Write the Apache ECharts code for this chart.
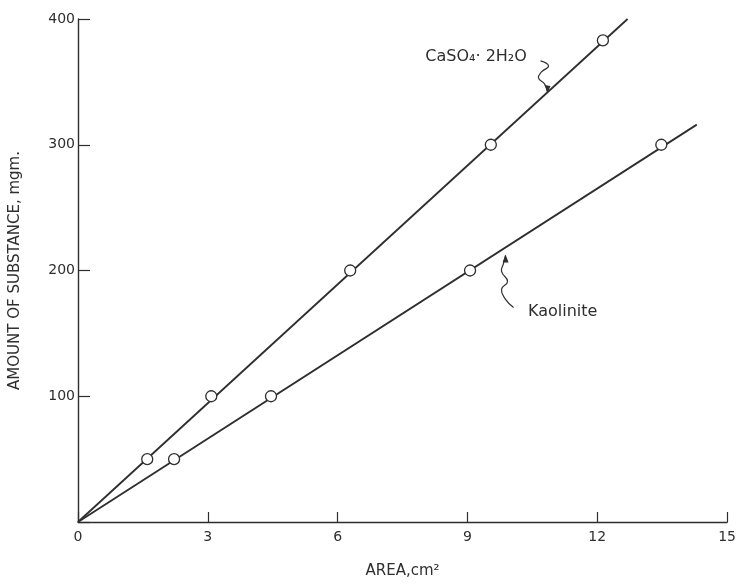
<!DOCTYPE html>
<html>
<head>
<meta charset="utf-8">
<script src="https://cdn.jsdelivr.net/npm/echarts@6/dist/echarts.min.js"></script>
<style>
html, body { margin: 0; padding: 0; background: #fff; }
#main { width: 739px; height: 584px; }
</style>
</head>
<body>
<div id="main"></div>
<script>
// values
var xTicks = [0, 3, 6, 9, 12, 15];
var yTicks = [0, 100, 200, 300, 400];

var gypsumArea = [1.6, 3.08, 6.29, 9.54, 12.13];
var gypsumMass = [50, 100, 200, 300, 383];
var gypsumLine = [[0, 0], [12.7, 400]];

var kaolArea = [2.22, 4.46, 9.06, 13.48];
var kaolMass = [50, 100, 200, 300];
var kaolLine = [[0, 0], [14.3, 316]];

var ink = '#2e2e2e';
var font = 'DejaVu Sans';

function pairs(xs, ys) {
    return xs.map(function (x, i) { return [x, ys[i]]; });
}

var myChart = echarts.init(document.getElementById('main'));

option = {
    backgroundColor: '#fff',
    animation: false,
    grid: { left: 73, right: 11, top: 19, bottom: 61 },
    xAxis: {
        type: 'value',
        min: 0, max: 15, interval: 3,
        name: 'AREA,cm²',
        nameLocation: 'middle',
        nameGap: 42,
        nameTextStyle: { color: ink, fontFamily: font, fontSize: 15 },
        axisLine: { lineStyle: { color: ink, width: 1.4 } },
        axisTick: { inside: true, length: 10, lineStyle: { color: ink, width: 1.2 } },
        axisLabel: { color: ink, fontFamily: font, fontSize: 14, margin: 8 },
        splitLine: { show: false }
    },
    yAxis: {
        type: 'value',
        min: 0, max: 400, interval: 100,
        name: 'AMOUNT OF SUBSTANCE, mgm.',
        nameLocation: 'middle',
        nameGap: 55,
        nameTextStyle: { color: ink, fontFamily: font, fontSize: 15 },
        axisLine: { lineStyle: { color: ink, width: 1.4 } },
        axisTick: { inside: true, length: 12, lineStyle: { color: ink, width: 1.2 } },
        axisLabel: {
            color: ink, fontFamily: font, fontSize: 14, margin: 3,
            formatter: function (v) { return v === 0 ? '' : v; }
        },
        splitLine: { show: false }
    },
    series: [
        {
            type: 'line', data: gypsumLine, symbol: 'none',
            lineStyle: { color: ink, width: 1.8 }, z: 2
        },
        {
            type: 'line', data: kaolLine, symbol: 'none',
            lineStyle: { color: ink, width: 1.8 }, z: 2
        },
        {
            type: 'scatter', data: pairs(gypsumArea, gypsumMass),
            symbol: 'circle', symbolSize: 11,
            itemStyle: { color: '#fff', borderColor: ink, borderWidth: 1.3, opacity: 1 }, z: 3
        },
        {
            type: 'scatter', data: pairs(kaolArea, kaolMass),
            symbol: 'circle', symbolSize: 11,
            itemStyle: { color: '#fff', borderColor: ink, borderWidth: 1.3, opacity: 1 }, z: 3
        },
        // curve labels
        {
            type: 'scatter', symbol: 'circle', symbolSize: 1, silent: true,
            itemStyle: { color: 'rgba(0,0,0,0)', opacity: 1 },
            data: [
                { value: [9.2, 370], label: { formatter: 'CaSO₄· 2H₂O' } },
                { value: [11.2, 167], label: { formatter: 'Kaolinite' } }
            ],
            label: { show: true, position: 'inside', color: ink, fontFamily: font, fontSize: 16 }
        }
    ]
};
myChart.setOption(option);

// squiggly pointer arrows from labels to lines
function squiggle(tipData, pts) {
    var tip = myChart.convertToPixel({ gridIndex: 0 }, tipData);
    return pts.map(function (p) { return [tip[0] + p[0], tip[1] + p[1]]; });
}
var g1 = squiggle([10.85, 342], [[-7, -31], [1, -26], [-6, -20], [-9, -14], [-3, -8], [0, 0]]);
var g2 = squiggle([9.88, 212], [[8, 52], [0, 44], [-4, 34], [2, 26], [-4, 16], [-2, 8], [0, 0]]);
var t1 = g1[g1.length - 1], t2 = g2[g2.length - 1];
myChart.setOption({
    graphic: [
        { type: 'polyline', shape: { points: g1, smooth: 0.5 }, style: { stroke: ink, lineWidth: 1.2, fill: null } },
        { type: 'polygon', shape: { points: [[t1[0], t1[1] + 1], [t1[0] - 3, t1[1] - 7], [t1[0] + 3, t1[1] - 6]] }, style: { fill: ink } },
        { type: 'polyline', shape: { points: g2, smooth: 0.5 }, style: { stroke: ink, lineWidth: 1.2, fill: null } },
        { type: 'polygon', shape: { points: [[t2[0], t2[1] - 1], [t2[0] - 3, t2[1] + 7], [t2[0] + 3, t2[1] + 7]] }, style: { fill: ink } }
    ]
});
</script>
</body>
</html>
